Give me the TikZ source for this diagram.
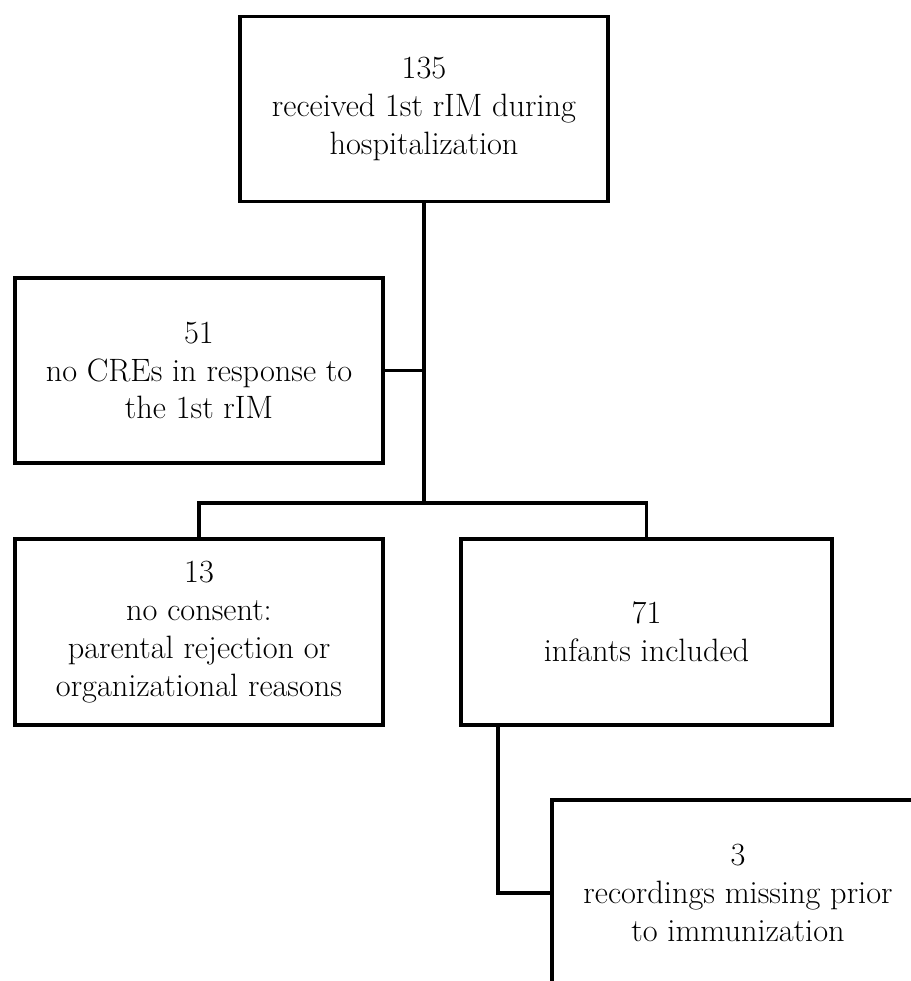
\documentclass[tikz,border=0pt]{standalone}
\usepackage{tikz}
\usetikzlibrary{positioning, calc}

\begin{document}
\begin{tikzpicture}[
    flowbox/.style={draw=black, line width=2.2pt, fill=white, minimum width=7.36cm,
                    minimum height=3.7cm, align=center, inner sep=2pt,
                    font=\fontsize{18.4}{21.5}\selectfont},
    link/.style={draw=black, line width=2.2pt},
    trunk/.style={link, line width=2.7pt}
]
    \useasboundingbox (0,0) rectangle (18.22,-19.62);
    \clip (0,0) rectangle (18.22,-19.62);

    \node[flowbox] (intake) at (8.48,-2.18) {135\\received 1st rIM during\\hospitalization};
    \node[flowbox] (nocre) at (3.98,-7.41) {51\\no CREs in response to\\the 1st rIM};
    \node[flowbox, minimum height=3.72cm] (noconsent) at (3.98,-12.64)
        {13\\no consent:\\parental rejection or\\organizational reasons};
    \node[flowbox, minimum height=3.72cm, minimum width=7.42cm] (included) at (12.93,-12.64)
        {71\\infants included};
    \node[flowbox, minimum height=3.72cm, minimum width=7.44cm] (missing) at (14.76,-17.86)
        {3\\recordings missing prior\\to immunization};

    \coordinate (split) at (8.48,-10.06);

    \draw[trunk] (intake) -- (split);
    \draw[link, line width=1.7pt] (nocre.east) -- (nocre.east -| split);
    \draw[link] (noconsent.north) |- (split) -| (included.north);
    \draw[link] ([xshift=0.78cm]included.south west) |- (missing.west);
\end{tikzpicture}
\end{document}
